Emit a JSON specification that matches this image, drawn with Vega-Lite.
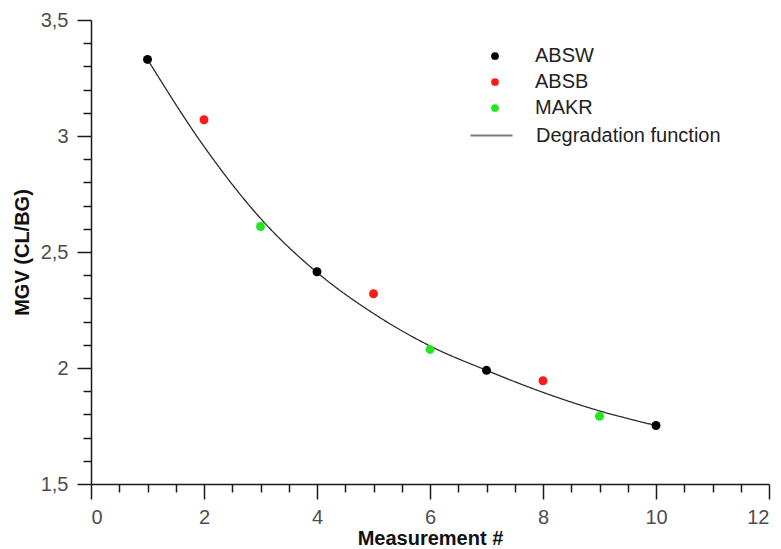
{
  "$schema": "https://vega.github.io/schema/vega-lite/v6.json",
  "width": 678,
  "height": 464,
  "autosize": "none",
  "padding": {"left": 91, "top": 20, "right": 12, "bottom": 65},
  "background": "white",
  "config": {
    "view": {"stroke": null},
    "font": "Liberation Sans",
    "axis": {
      "grid": false,
      "domainColor": "#1a1a1a",
      "domainWidth": 1.5,
      "tickColor": "#1a1a1a",
      "tickWidth": 1.5,
      "labelFont": "Liberation Sans",
      "labelFontSize": 20,
      "labelColor": "#4d4d4d",
      "titleFont": "Liberation Sans",
      "titleFontSize": 20,
      "titleFontWeight": "bold",
      "titleColor": "#111111"
    },
    "legend": {
      "labelFont": "Liberation Sans",
      "labelFontSize": 20,
      "labelColor": "#222222",
      "labelLimit": 400,
      "padding": 0
    }
  },
  "datasets": {
    "measurements": [
      {"measurement": 1, "mgv": 3.33, "series": "ABSW"},
      {"measurement": 2, "mgv": 3.07, "series": "ABSB"},
      {"measurement": 3, "mgv": 2.61, "series": "MAKR"},
      {"measurement": 4, "mgv": 2.415, "series": "ABSW"},
      {"measurement": 5, "mgv": 2.32, "series": "ABSB"},
      {"measurement": 6, "mgv": 2.08, "series": "MAKR"},
      {"measurement": 7, "mgv": 1.99, "series": "ABSW"},
      {"measurement": 8, "mgv": 1.945, "series": "ABSB"},
      {"measurement": 9, "mgv": 1.792, "series": "MAKR"},
      {"measurement": 10, "mgv": 1.752, "series": "ABSW"}
    ],
    "degradation": [
      {"measurement": 1, "mgv": 3.33, "curve": "Degradation function"},
      {"measurement": 2, "mgv": 2.955, "curve": "Degradation function"},
      {"measurement": 3, "mgv": 2.645, "curve": "Degradation function"},
      {"measurement": 4, "mgv": 2.412, "curve": "Degradation function"},
      {"measurement": 5, "mgv": 2.235, "curve": "Degradation function"},
      {"measurement": 6, "mgv": 2.095, "curve": "Degradation function"},
      {"measurement": 7, "mgv": 1.99, "curve": "Degradation function"},
      {"measurement": 8, "mgv": 1.895, "curve": "Degradation function"},
      {"measurement": 9, "mgv": 1.815, "curve": "Degradation function"},
      {"measurement": 10, "mgv": 1.752, "curve": "Degradation function"}
    ]
  },
  "resolve": {"axis": {"x": "independent", "y": "independent"}},
  "layer": [
    {
      "data": {"name": "degradation"},
      "mark": {"type": "line", "color": "#2a2a2a", "strokeWidth": 1.3, "interpolate": "monotone"},
      "encoding": {
        "x": {
          "field": "measurement", "type": "quantitative",
          "scale": {"domain": [0, 12], "nice": false, "zero": false},
          "axis": {
            "orient": "bottom", "title": null, "labels": false, "domain": false,
            "tickSize": 8,
            "values": [0.5, 1, 1.5, 2.5, 3, 3.5, 4.5, 5, 5.5, 6.5, 7, 7.5, 8.5, 9, 9.5, 10.5, 11, 11.5]
          }
        },
        "y": {
          "field": "mgv", "type": "quantitative",
          "scale": {"domain": [1.5, 3.5], "nice": false, "zero": false},
          "axis": {
            "orient": "left", "title": null, "labels": false, "domain": false,
            "tickSize": 8,
            "values": [1.6, 1.7, 1.8, 1.9, 2.1, 2.2, 2.3, 2.4, 2.6, 2.7, 2.8, 2.9, 3.1, 3.2, 3.3, 3.4]
          }
        },
        "strokeDash": {
          "field": "curve", "type": "nominal",
          "scale": {"domain": ["Degradation function"], "range": [[1, 0]]},
          "legend": {
            "title": null,
            "orient": "none",
            "legendX": 378,
            "legendY": 93,
            "symbolType": "stroke",
            "symbolSize": 1764,
            "symbolOpacity": 0.62,
            "symbolStrokeWidth": 2.2,
            "labelOffset": 22
          }
        }
      }
    },
    {
      "data": {"name": "measurements"},
      "mark": {"type": "point", "filled": true, "opacity": 1, "size": 80},
      "encoding": {
        "x": {
          "field": "measurement", "type": "quantitative",
          "scale": {"domain": [0, 12], "nice": false, "zero": false},
          "axis": {
            "orient": "bottom", "title": "Measurement #",
            "values": [0, 2, 4, 6, 8, 10, 12],
            "tickSize": 15, "labelPadding": 8, "titlePadding": 1
          }
        },
        "y": {
          "field": "mgv", "type": "quantitative",
          "scale": {"domain": [1.5, 3.5], "nice": false, "zero": false},
          "axis": {
            "orient": "left", "title": "MGV (CL/BG)",
            "values": [1.5, 2, 2.5, 3, 3.5],
            "labelExpr": "replace(format(datum.value, '~g'), '.', ',')",
            "tickSize": 14, "labelPadding": 9, "titlePadding": 8
          }
        },
        "color": {
          "field": "series", "type": "nominal",
          "scale": {
            "domain": ["ABSW", "ABSB", "MAKR"],
            "range": ["#000000", "#ff1a1a", "#22e622"]
          },
          "legend": {
            "title": null,
            "orient": "none",
            "legendX": 394,
            "legendY": 26,
            "symbolType": "circle",
            "symbolSize": 60,
            "symbolStrokeWidth": 0,
            "labelOffset": 30,
            "rowPadding": 6
          }
        }
      }
    }
  ]
}
